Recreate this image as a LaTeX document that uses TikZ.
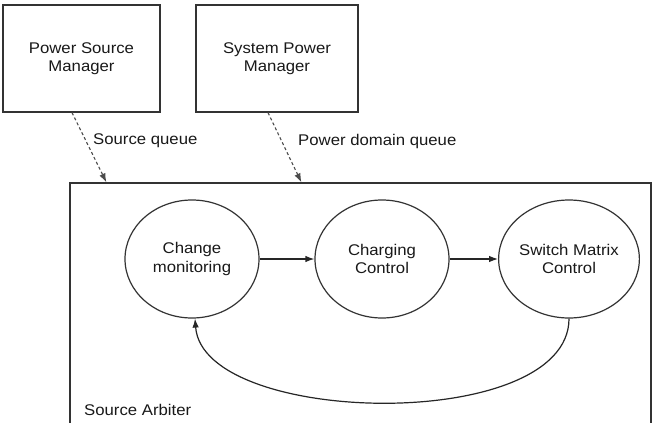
\documentclass[tikz,border=0pt]{standalone}
\usepackage{fontspec}
\setmainfont{Liberation Sans}[FakeStretch=1.08]
\usetikzlibrary{shapes.geometric,arrows.meta}
\begin{document}
\begin{tikzpicture}[x=1pt,y=-1pt,
  every node/.style={font=\fontsize{15.5}{18.5}\selectfont, text=black!90},
  mgr/.style={draw=black!80, line width=1.2pt, minimum width=157pt, minimum height=107pt, inner sep=0pt, align=center},
  state/.style={draw=black!80, line width=1.2pt, ellipse, minimum width=134pt, minimum height=118pt, inner sep=0pt, align=center},
  flow/.style={draw=black!85, line width=1.2pt, -{Latex[length=9pt,width=6.5pt]}},
  queue/.style={draw=black!70, line width=1.1pt, dash pattern=on 3pt off 2.5pt, -{Latex[length=9pt,width=6.5pt]}},
  lbl/.style={anchor=west, inner sep=0pt}]
\useasboundingbox (0,0) rectangle (664,423);
\clip (0,0) rectangle (664,423);
\fill[white] (0,0) rectangle (664,423);
\node[mgr] (psm) at (81.5,58.5) {Power Source\\Manager};
\node[mgr, minimum width=162pt] (spm) at (277,58.5) {System Power\\Manager};
\node[draw=black!80, line width=1.2pt, minimum width=581pt, minimum height=260pt, inner sep=0pt] (arb) at (360.5,313) {};
\node[state] (cm) at (192,259) {Change\\monitoring};
\node[state] (cc) at (382,259) {Charging\\Control};
\node[state] (sm) at (569,259) {Switch Matrix\\Control};
\draw[queue] ([xshift=-9.5pt]psm.south) -- ([xshift=37pt]arb.north west);
\draw[queue] ([xshift=-9pt]spm.south) -- ([xshift=232pt]arb.north west);
\node[lbl] (sq) at (93,141) {Source queue};
\node[lbl] (pq) at (298,141) {Power domain queue};
\draw[flow] (cm) -- (cc);
\draw[flow] (cc) -- (sm);
\draw[flow] (sm.south) .. controls +(0,115) and +(8,108) .. ([xshift=3pt]cm.south);
\node[lbl] (sa) at (84,410) {Source Arbiter};
\end{tikzpicture}
\end{document}
